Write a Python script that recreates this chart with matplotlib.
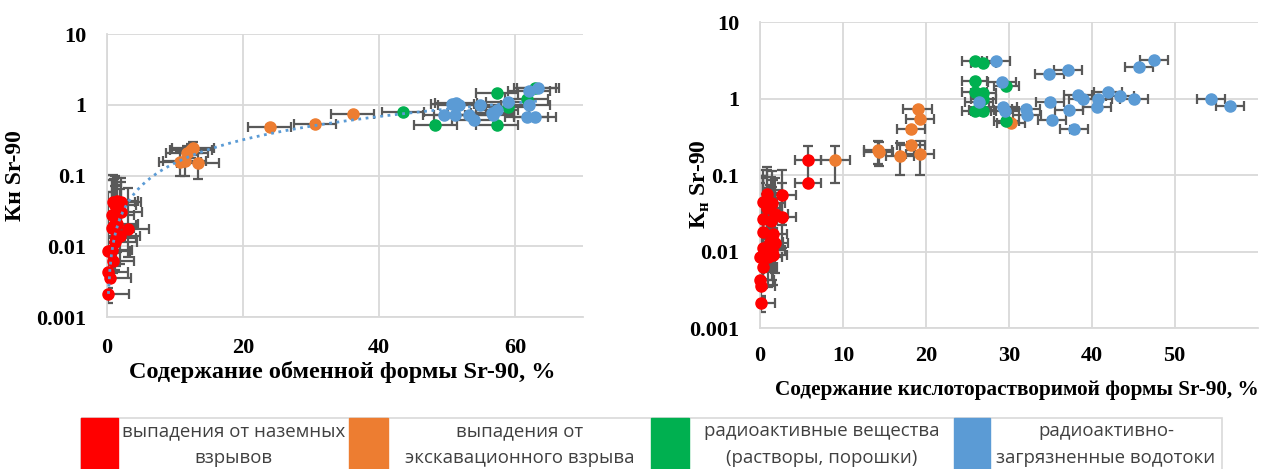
import numpy as np
import matplotlib
matplotlib.use('Agg')
import matplotlib.pyplot as plt
from matplotlib.patches import Rectangle

plt.rcParams['mathtext.fontset'] = 'custom'
plt.rcParams['mathtext.rm'] = 'Liberation Serif:bold'

# ---- left chart: exchangeable form ----
red_x_l = [0.2, 0.45, 0.1, 0.9, 0.2, 0.7, 1.2, 1.3, 1.9, 0.8, 3.1, 1.0, 1.5, 0.7, 2.1, 0.9, 1.5, 2.0, 1.2]
red_y_l = [0.0021, 0.0036, 0.0043, 0.0062, 0.0085, 0.009, 0.0115, 0.013, 0.014, 0.018, 0.0175, 0.02,
           0.021, 0.028, 0.031, 0.042, 0.044, 0.042, 0.038]
red_xerr_l = [3.0, 3.0, 3.0, 3.0, 3.2, 3.0, 3.2, 3.0, 3.0, 3.2, 3.0, 3.2, 3.0, 3.2, 3.0, 3.2, 3.0, 3.0, 3.0]
red_yerr_l = [0.0005, 0.0005, 0.0005, 0.002, 0.05, 0.05, 0.06, 0.06, 0.05, 0.07, 0.05, 0.07,
              0.06, 0.06, 0.05, 0.06, 0.05, 0.05, 0.06]

orange_x_l = [10.7, 11.4, 13.4, 11.8, 12.7, 12.4, 23.9, 30.6, 36.1]
orange_y_l = [0.158, 0.16, 0.151, 0.21, 0.245, 0.23, 0.485, 0.54, 0.75]
orange_yerr_l = [0.06, 0.06, 0.06, 0.05, 0.05, 0.05, 0.03, 0.03, 0.03]

green_x_l = [43.5, 48.3, 57.3, 58.9, 61.7, 63.0, 57.3]
green_y_l = [0.79, 0.52, 1.49, 0.93, 1.22, 1.72, 0.52]

blue_x_l = [50.8, 51.3, 51.7, 49.6, 51.2, 53.3, 53.9, 54.8, 56.8, 56.6, 57.3, 58.9, 62.0, 62.0, 63.4, 61.7, 62.9]
blue_y_l = [1.03, 1.05, 1.0, 0.71, 0.71, 0.71, 0.62, 1.0, 0.71, 0.78, 0.86, 1.1, 1.0, 1.6, 1.72, 0.67, 0.67]

# power trendline of the left chart, y = a * x^b
trend_a = 0.0123
trend_b = 1.09
trend_x = [0.2, 63.4]

# ---- right chart: acid-soluble form ----
red_x_r = [5.8, 5.8, 0.8, 2.7, 0.4, 1.4, 0.8, 2.7, 0.4, 1.8, 1.3, 0.4, 1.6, 1.2, 1.8, 0.4, 1.4, 0.0,
           1.0, 1.6, 0.4, 0.05, 0.15, 0.15]
red_y_r = [0.16, 0.078, 0.057, 0.055, 0.045, 0.043, 0.037, 0.028, 0.027, 0.031, 0.025, 0.018, 0.017,
           0.0135, 0.013, 0.011, 0.0105, 0.0085, 0.0085, 0.009, 0.0063, 0.0043, 0.0035, 0.0021]
red_yerr_r = [0.08, 0.002, 0.07, 0.06, 0.07, 0.07, 0.08, 0.05, 0.07, 0.06, 0.07, 0.08, 0.07,
              0.06, 0.05, 0.08, 0.06, 0.07, 0.06, 0.05, 0.003, 0.001, 0.001, 0.0005]

orange_x_r = [9.1, 14.2, 14.3, 16.9, 19.3, 18.2, 18.2, 19.3, 19.0, 30.3]
orange_y_r = [0.158, 0.21, 0.2, 0.18, 0.19, 0.245, 0.40, 0.54, 0.74, 0.48]
orange_yerr_r = [0.08, 0.07, 0.07, 0.08, 0.09, 0.03, 0.03, 0.03, 0.03, 0.03]

green_x_r = [25.9, 26.9, 25.9, 25.9, 26.9, 25.9, 26.9, 29.7, 26.9, 26.7, 29.7]
green_y_r = [3.1, 2.94, 1.71, 1.23, 1.2, 0.68, 0.69, 1.47, 0.98, 0.71, 0.51]

blue_x_r = [28.5, 34.9, 37.1, 45.7, 47.5, 29.2, 35.0, 38.3, 38.9, 40.8, 42.0, 43.4, 45.1, 54.4, 56.7,
            29.3, 29.5, 32.1, 32.2, 37.3, 40.6, 35.2, 37.9, 26.4]
blue_y_r = [3.09, 2.09, 2.4, 2.6, 3.25, 1.63, 0.91, 1.11, 1.0, 1.0, 1.23, 1.09, 0.99, 0.99, 0.8,
            0.78, 0.68, 0.74, 0.61, 0.71, 0.77, 0.52, 0.40, 0.91]

labels = ['выпадения от наземных\nвзрывов', 'выпадения от\nэкскавационного взрыва',
          'радиоактивные вещества\n(растворы, порошки)', 'радиоактивно-\nзагрязненные водотоки']
colors = ['#FF0000', '#ED7D31', '#00B050', '#5B9BD5']
err_col = '#595959'
grid_col = '#D9D9D9'
serif = 'Liberation Serif'


def draw_series(ax, x, y, c, xerr, yerr):
    y = np.array(y)
    yerr = np.array(yerr) if np.ndim(yerr) else np.full(len(y), yerr)
    lo = np.minimum(yerr, y * 0.6)
    ax.errorbar(x, y, xerr=xerr, yerr=[lo, yerr], fmt='none', ecolor=err_col,
                elinewidth=1.6, capsize=3.5, capthick=1.6, zorder=2)
    ax.plot(x, y, 'o', color=c, ms=8, zorder=3, clip_on=False)


def style_axes(ax, xmax, xticks, fs, xpad, ypad):
    ax.set_yscale('log')
    ax.set_ylim(0.001, 10)
    ax.set_xlim(0, xmax)
    ax.set_xticks(xticks)
    ax.set_yticks([0.001, 0.01, 0.1, 1, 10])
    ax.set_yticklabels(['0.001', '0.01', '0.1', '1', '10'])
    ax.minorticks_off()
    ax.grid(True, color=grid_col, lw=1.3)
    ax.set_axisbelow(True)
    for s in ['top', 'right']:
        ax.spines[s].set_visible(False)
    for s in ['left', 'bottom']:
        ax.spines[s].set_color(grid_col)
        ax.spines[s].set_linewidth(1.3)
    ax.tick_params(axis='x', length=0, pad=xpad)
    ax.tick_params(axis='y', length=0, pad=ypad)
    for t in ax.get_xticklabels() + ax.get_yticklabels():
        t.set_fontfamily(serif)
        t.set_fontweight('bold')
        t.set_fontsize(fs)


fig = plt.figure(figsize=(12.76, 4.69), dpi=100)

ax1 = fig.add_axes([0.0839, 0.324, 0.373, 0.603])
draw_series(ax1, red_x_l, red_y_l, colors[0], red_xerr_l, red_yerr_l)
draw_series(ax1, orange_x_l, orange_y_l, colors[1], 3.1, orange_yerr_l)
draw_series(ax1, green_x_l, green_y_l, colors[2], 3.1, 0.04)
draw_series(ax1, blue_x_l, blue_y_l, colors[3], 3.1, 0.04)

xt = np.linspace(trend_x[0], trend_x[1], 300)
ax1.plot(xt, trend_a * xt ** trend_b, ':', color='#5B9BD5', lw=2, zorder=4)

style_axes(ax1, 70, [0, 20, 40, 60], 16, 15, 15)
ax1.set_xlabel('Содержание обменной формы Sr-90, %', fontfamily=serif, fontweight='bold', fontsize=17.5)
ax1.xaxis.set_label_coords(0.494, -0.155)
ax1.set_ylabel('Кн Sr-90', fontfamily=serif, fontweight='bold', fontsize=17)
ax1.yaxis.set_label_coords(-0.170, 0.5)

ax2 = fig.add_axes([0.5956, 0.3006, 0.390, 0.652])
draw_series(ax2, red_x_r, red_y_r, colors[0], 1.6, red_yerr_r)
draw_series(ax2, orange_x_r, orange_y_r, colors[1], 1.7, orange_yerr_r)
draw_series(ax2, green_x_r, green_y_r, colors[2], 1.5, 0.04)
draw_series(ax2, blue_x_r, blue_y_r, colors[3], 1.7, 0.04)
style_axes(ax2, 60, [0, 10, 20, 30, 40, 50], 16, 13, 15)
ax2.set_xlabel('Содержание кислоторастворимой формы Sr-90, %', fontfamily=serif, fontweight='bold',
               fontsize=15.3)
ax2.xaxis.set_label_coords(0.516, -0.170)
ax2.set_ylabel(r'К$_{\mathrm{н}}$ Sr-90', fontfamily=serif, fontweight='bold', fontsize=17)
ax2.yaxis.set_label_coords(-0.096, 0.47)

# legend strip at the bottom
lg = fig.add_axes([81 / 1276, 0, (1222 - 81) / 1276, 51 / 469])
lg.set_xlim(81, 1222)
lg.set_ylim(469, 418)
lg.axis('off')
lg.add_patch(Rectangle((81, 418), 1141, 60, fill=False, ec=grid_col, lw=1.2, clip_on=False))
box_left = [81, 349, 651, 954]
box_right = [118, 388, 689, 990]
text_end = [349, 651, 954, 1222]
for i in range(4):
    lg.add_patch(Rectangle((box_left[i], 418), box_right[i] - box_left[i], 60, color=colors[i],
                           clip_on=False))
    cx = (box_right[i] + text_end[i]) / 2
    for j, line in enumerate(labels[i].split('\n')):
        lg.text(cx, 431 + j * 27, line, ha='center', va='center', fontsize=13.4,
                fontfamily='Open Sans', color='#404040')

fig.savefig('out.png', dpi=100)
